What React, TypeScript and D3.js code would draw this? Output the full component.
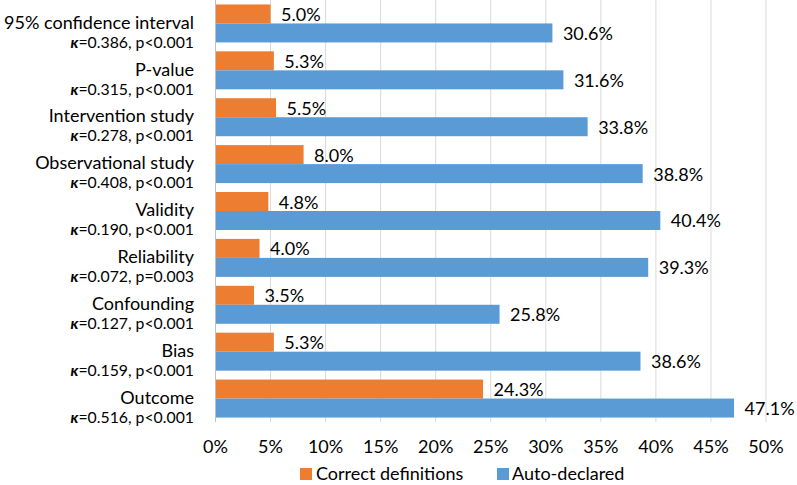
import React from "react";
import * as d3 from "d3";

const categories = [
  "95% confidence interval",
  "P-value",
  "Intervention study",
  "Observational study",
  "Validity",
  "Reliability",
  "Confounding",
  "Bias",
  "Outcome",
];
const kappaValues = ["0.386", "0.315", "0.278", "0.408", "0.190", "0.072", "0.127", "0.159", "0.516"];
const pValues = ["p<0.001", "p<0.001", "p<0.001", "p<0.001", "p<0.001", "p=0.003", "p<0.001", "p<0.001", "p<0.001"];
const correctDefinitions = [5.0, 5.3, 5.5, 8.0, 4.8, 4.0, 3.5, 5.3, 24.3];
const autoDeclared = [30.6, 31.6, 33.8, 38.8, 40.4, 39.3, 25.8, 38.6, 47.1];
const xTicks = [0, 5, 10, 15, 20, 25, 30, 35, 40, 45, 50];
const seriesNames = ["Correct definitions", "Auto-declared"];
const seriesColors = ["#ED7D31", "#5B9BD5"];

const W = 797;
const H = 485;
const FONT = "Lato, Carlito, 'Open Sans', sans-serif";
const FS = 18;
const FS_K = 15.8;

export default function App() {
  const x = d3.scaleLinear().domain([0, 50]).range([215.5, 766]);
  const y = d3.scaleBand<string>().domain(categories).range([0, 422]).paddingInner(0.19).paddingOuter(0.095);
  const sub = d3.scaleBand<number>().domain([0, 1]).range([0, y.bandwidth()]).padding(0);
  const series = [correctDefinitions, autoDeclared];

  return (
    <svg width={W} height={H} style={{ position: "absolute", left: 0, top: 0, background: "#fff" }} fontFamily={FONT}>
      {xTicks.map((t) => (
        <line key={"g" + t} x1={x(t)} x2={x(t)} y1={0} y2={422} stroke="#D9D9D9" strokeWidth={1} />
      ))}
      {categories.map((c, i) => {
        const cy = (y(c) as number) + y.bandwidth() / 2;
        return (
          <g key={c}>
            {series.map((s, k) => (
              <rect
                key={k}
                x={x(0)}
                y={(y(c) as number) + (sub(k) as number)}
                width={x(s[i]) - x(0)}
                height={sub.bandwidth()}
                fill={seriesColors[k]}
              />
            ))}
            {series.map((s, k) => (
              <text
                key={"l" + k}
                x={x(s[i]) + 10.5}
                y={(y(c) as number) + (sub(k) as number) + sub.bandwidth() / 2 + 7}
                fontSize={FS}
                fill="#000"
              >
                {s[i].toFixed(1)}%
              </text>
            ))}
            <text x={194} y={cy + 5.2} fontSize={FS} textAnchor="end" fill="#000">
              {c}
            </text>
            <text x={194} y={cy + 24.2} fontSize={FS_K} textAnchor="end" fill="#000">
              <tspan fontWeight="bold" fontStyle="italic">κ</tspan>
              {"=" + kappaValues[i] + ", " + pValues[i]}
            </text>
          </g>
        );
      })}
      <line x1={x(0)} x2={x(0)} y1={0} y2={422} stroke="#BFBFBF" strokeWidth={1} />
      {xTicks.map((t) => (
        <text key={"t" + t} x={x(t)} y={453} fontSize={FS} textAnchor="middle" fill="#000">
          {t}%
        </text>
      ))}
      <rect x={300} y={468} width={12} height={12} fill={seriesColors[0]} />
      <text x={316} y={480} fontSize={FS} fill="#000">{seriesNames[0]}</text>
      <rect x={497} y={468} width={12} height={12} fill={seriesColors[1]} />
      <text x={512} y={480} fontSize={FS} fill="#000">{seriesNames[1]}</text>
    </svg>
  );
}
